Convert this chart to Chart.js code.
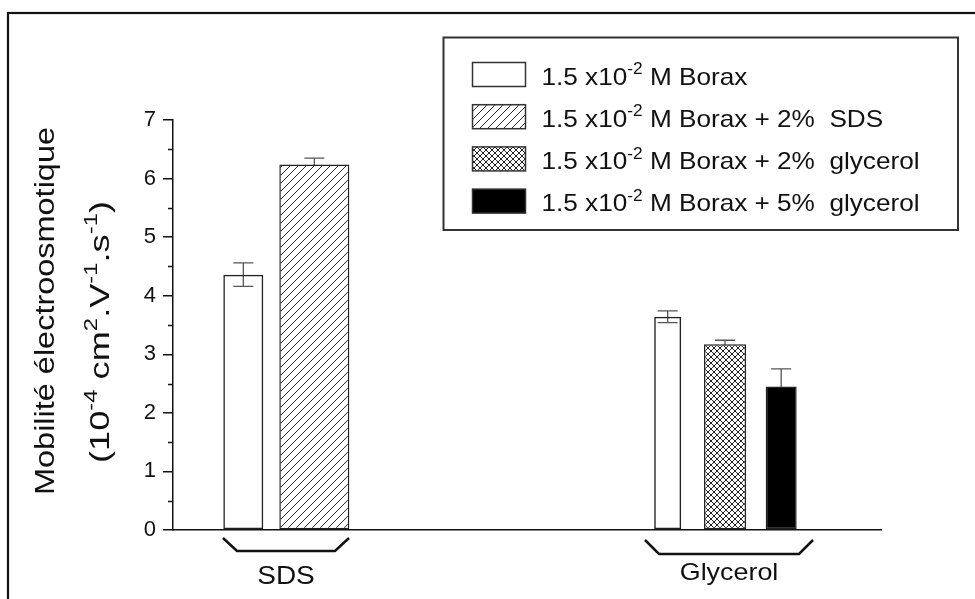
<!DOCTYPE html>
<html>
<head>
<meta charset="utf-8">
<script src="https://cdn.jsdelivr.net/npm/chart.js@4.4.1/dist/chart.umd.min.js"></script>
<style>
  html, body { margin: 0; padding: 0; background: #fff; }
  #wrap { width: 975px; height: 599px; position: relative; }
</style>
</head>
<body>
<div id="wrap"><canvas id="c"></canvas></div>
<script>
// ---- data ----
const groups = ['SDS', 'Glycerol'];
const seriesLabels = [
  '1.5 x10^{-2} M Borax',
  '1.5 x10^{-2} M Borax + 2%  SDS',
  '1.5 x10^{-2} M Borax + 2%  glycerol',
  '1.5 x10^{-2} M Borax + 5%  glycerol'
];
const yTitleLines = ['Mobilité électroosmotique', '(10^{-4} cm^{2}.V^{-1}.s^{-1})'];
const yTicks = [0, 1, 2, 3, 4, 5, 6, 7];

// mean values and error (±) per series; borax appears in both groups
const boraxMean = [4.36, 3.64];
const boraxErr  = [0.20, 0.10];
const sdsMean   = [6.24];
const sdsErr    = [0.11];
const gly2Mean  = [3.17];
const gly2Err   = [0.07];
const gly5Mean  = [2.45];
const gly5Err   = [0.30];

// ---- layout (x axis units 0..100, bar widths in px) ----
const SLOT = { borax: [9.93, 69.87], sds: [19.96], gly2: [77.97], gly5: [85.9] };
const WIDTH = { borax: [40, 27], sds: [70], gly2: [42], gly5: [31] };
const BRACKET = [[7.06, 24.86], [66.67, 90.4]];
const FONT = "'Liberation Sans', Arial, sans-serif";
const INK = '#111';

const canvas = document.getElementById('c');
const ctx0 = canvas.getContext('2d');

function hatchPattern() {
  const c = document.createElement('canvas'); c.width = 8; c.height = 8;
  const g = c.getContext('2d');
  g.fillStyle = '#fff'; g.fillRect(0, 0, 8, 8);
  g.strokeStyle = '#2a2a2a'; g.lineWidth = 1;
  g.beginPath();
  g.moveTo(-1, 9); g.lineTo(9, -1);
  g.moveTo(-1, 1); g.lineTo(1, -1);
  g.moveTo(7, 9); g.lineTo(9, 7);
  g.stroke();
  return ctx0.createPattern(c, 'repeat');
}
function crossPattern() {
  const n = 6;
  const c = document.createElement('canvas'); c.width = n; c.height = n;
  const g = c.getContext('2d');
  g.fillStyle = '#fff'; g.fillRect(0, 0, n, n);
  g.strokeStyle = '#222'; g.lineWidth = 1;
  g.beginPath();
  g.moveTo(-1, n + 1); g.lineTo(n + 1, -1);
  g.moveTo(-1, -1); g.lineTo(n + 1, n + 1);
  g.stroke();
  return ctx0.createPattern(c, 'repeat');
}
const fills = ['rgba(255,255,255,0)', hatchPattern(), crossPattern(), '#000'];
const legendFills = ['#fff', fills[1], fills[2], '#000'];

function ds(label, slots, means, errs, widths, fillIdx) {
  return slots.map((s, i) => ({
    label: label,
    data: [{ x: s, y: means[i] }],
    errors: [errs[i]],
    backgroundColor: fills[fillIdx],
    borderColor: '#222',
    borderWidth: 1.5,
    borderSkipped: false,
    maxBarThickness: widths[i],
    grouped: false,
    barPercentage: 3,
    categoryPercentage: 1
  }));
}

const datasets = [
  ...ds(seriesLabels[0], SLOT.borax, boraxMean, boraxErr, WIDTH.borax, 0),
  ...ds(seriesLabels[1], SLOT.sds, sdsMean, sdsErr, WIDTH.sds, 1),
  ...ds(seriesLabels[2], SLOT.gly2, gly2Mean, gly2Err, WIDTH.gly2, 2),
  ...ds(seriesLabels[3], SLOT.gly5, gly5Mean, gly5Err, WIDTH.gly5, 3)
];

// ---- rich text helpers (superscripts written as ^{...}) ----
function parseRich(s) {
  const parts = []; const re = /\^\{([^}]*)\}/g; let last = 0, m;
  while ((m = re.exec(s))) {
    if (m.index > last) parts.push({ t: s.slice(last, m.index), sup: false });
    parts.push({ t: m[1], sup: true });
    last = re.lastIndex;
  }
  if (last < s.length) parts.push({ t: s.slice(last), sup: false });
  return parts;
}
function richWidth(ctx, parts, size) {
  let w = 0;
  for (const p of parts) { ctx.font = (p.sup ? size * 0.66 : size) + 'px ' + FONT; w += ctx.measureText(p.t).width; }
  return w;
}
function drawRich(ctx, parts, x, y, size, sx) {
  ctx.save();
  ctx.translate(x, y); ctx.scale(sx, 1);
  ctx.textAlign = 'left'; ctx.textBaseline = 'alphabetic'; ctx.fillStyle = INK;
  let cx = 0;
  for (const p of parts) {
    const s = p.sup ? size * 0.66 : size;
    ctx.font = s + 'px ' + FONT;
    ctx.fillText(p.t, cx, p.sup ? -size * 0.43 : 0);
    cx += ctx.measureText(p.t).width;
  }
  ctx.restore();
}

const decor = {
  id: 'decor',
  beforeDraw(chart) {
    const ctx = chart.ctx;
    ctx.save();
    ctx.fillStyle = '#fff'; ctx.fillRect(0, 0, chart.width, chart.height);
    ctx.strokeStyle = '#111'; ctx.lineWidth = 2.2;
    ctx.strokeRect(8, 13, 1400, 1400);
    ctx.restore();
  },
  beforeDatasetsDraw(chart) {
    // error bars sit under the bars; open bars let them show through
    const ctx = chart.ctx, y = chart.scales.y;
    ctx.save();
    ctx.strokeStyle = '#555'; ctx.lineWidth = 1.3;
    chart.data.datasets.forEach((d, di) => {
      const meta = chart.getDatasetMeta(di);
      meta.data.forEach((el, i) => {
        const v = d.data[i].y, e = d.errors[i];
        const top = y.getPixelForValue(v + e), bot = y.getPixelForValue(v - e);
        const cap = 10;
        ctx.beginPath();
        ctx.moveTo(el.x, top); ctx.lineTo(el.x, bot);
        ctx.moveTo(el.x - cap, top); ctx.lineTo(el.x + cap, top);
        ctx.moveTo(el.x - cap, bot); ctx.lineTo(el.x + cap, bot);
        ctx.stroke();
      });
    });
    ctx.restore();
  },
  afterDraw(chart) {
    const ctx = chart.ctx, xs = chart.scales.x, ys = chart.scales.y;
    const area = chart.chartArea;
    ctx.save();
    // minor ticks on the value axis
    ctx.strokeStyle = INK; ctx.lineWidth = 1.5;
    for (let i = 0; i < yTicks.length - 1; i++) {
      const py = Math.round(ys.getPixelForValue((yTicks[i] + yTicks[i + 1]) / 2)) + 0.5;
      ctx.beginPath(); ctx.moveTo(area.left - 5, py); ctx.lineTo(area.left, py); ctx.stroke();
    }
    // group brackets and labels
    const base = area.bottom;
    ctx.lineWidth = 2.5; ctx.lineJoin = 'miter';
    groups.forEach((g, gi) => {
      const l = xs.getPixelForValue(BRACKET[gi][0]), r = xs.getPixelForValue(BRACKET[gi][1]);
      const t = base + 8 + gi * 2, b = base + 21 + gi * 3;
      ctx.beginPath();
      ctx.moveTo(l, t); ctx.lineTo(l + 14, b); ctx.lineTo(r - 14, b); ctx.lineTo(r, t);
      ctx.stroke();
      ctx.save();
      const size = gi === 0 ? 25 : 24;
      ctx.font = size + 'px ' + FONT; ctx.fillStyle = INK; ctx.textAlign = 'center'; ctx.textBaseline = 'alphabetic';
      ctx.translate((l + r) / 2, gi === 0 ? 584 : 580); ctx.scale(1.12, 1);
      ctx.fillText(g, 0, 0);
      ctx.restore();
    });
    // value axis title (two lines, rotated)
    const titleSpec = [
      { baseX: 54, cy: 311, len: 368, size: 27 },
      { baseX: 109, cy: 332, len: 262, size: 27 }
    ];
    yTitleLines.forEach((line, i) => {
      const spec = titleSpec[i];
      const parts = parseRich(line);
      const w = richWidth(ctx, parts, spec.size);
      ctx.save();
      ctx.translate(spec.baseX, spec.cy); ctx.rotate(-Math.PI / 2);
      drawRich(ctx, parts, -spec.len / 2, 0, spec.size, spec.len / w);
      ctx.restore();
    });
    // legend box
    const box = { l: 443.5, t: 37.5, r: 958, b: 230 };
    ctx.fillStyle = '#fff';
    ctx.fillRect(box.l, box.t, box.r - box.l, box.b - box.t);
    ctx.strokeStyle = '#333'; ctx.lineWidth = 2;
    ctx.strokeRect(box.l, box.t, box.r - box.l, box.b - box.t);
    const size = 24;
    const rows = seriesLabels.map(parseRich);
    const longest = Math.max(...rows.map(p => richWidth(ctx, p, size)));
    const sx = 378 / longest;
    rows.forEach((parts, i) => {
      const top = 62.5 + i * 42.2;
      ctx.fillStyle = legendFills[i];
      ctx.fillRect(472.5, top, 53, 24);
      ctx.strokeStyle = '#333'; ctx.lineWidth = 1.5;
      ctx.strokeRect(472.5, top, 53, 24);
      drawRich(ctx, parts, 541.5, top + 22, size, sx);
    });
    ctx.restore();
  }
};

new Chart(canvas, {
  type: 'bar',
  data: { datasets },
  options: {
    responsive: true,
    maintainAspectRatio: false,
    animation: false,
    layout: { padding: { top: 120, right: 94, bottom: 69, left: 0 } },
    plugins: { legend: { display: false }, tooltip: { enabled: false } },
    scales: {
      x: {
        type: 'linear', min: 0, max: 100, offset: false,
        ticks: { display: false },
        grid: { display: false, offset: false },
        border: { display: true, color: INK, width: 1.5 },
        afterFit: s => { s.height = 0; }
      },
      y: {
        min: 0, max: 7,
        afterBuildTicks: s => { s.ticks = yTicks.map(v => ({ value: v })); },
        ticks: { color: INK, padding: 7, font: { family: FONT, size: 22 } },
        grid: { display: true, drawOnChartArea: false, drawTicks: true, tickLength: 10, color: INK, lineWidth: 1.5 },
        border: { display: true, color: INK, width: 1.5 },
        afterFit: s => { s.width = 173; }
      }
    }
  },
  plugins: [decor]
});
</script>
</body>
</html>
